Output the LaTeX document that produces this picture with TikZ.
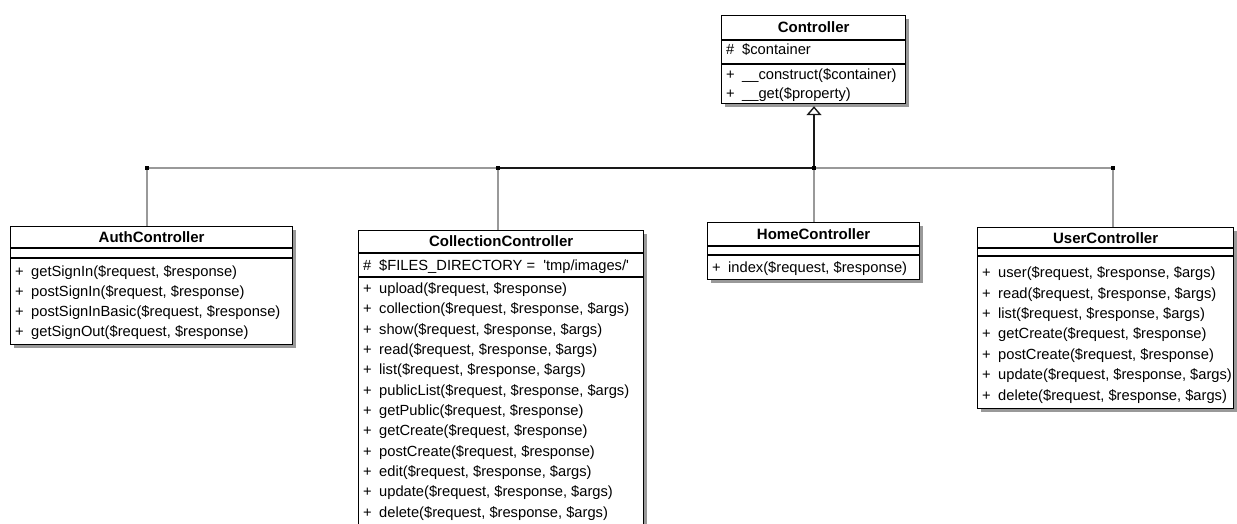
\documentclass[tikz,border=0pt]{standalone}
\usepackage{fontspec}
\setmainfont{Liberation Sans}[Ligatures=TeXOff]
\usetikzlibrary{shadows,arrows.meta}
\tikzset{
  x=1pt, y=-1pt,
  classbox/.style={draw=black, line width=1.2pt, fill=white, inner sep=0pt, anchor=north west,
    drop shadow={shadow xshift=3pt, shadow yshift=-3pt, fill=black!40, opacity=1}},
  titletext/.style={font=\fontsize{15}{18}\selectfont\bfseries, inner sep=0pt, text=black},
  rowtext/.style={font=\fontsize{14.7}{18}\selectfont, inner sep=0pt, anchor=base west, text=black},
  divider/.style={draw=black, line width=1.2pt},
  bus/.style={draw=black!40, line width=1.5pt},
  busdark/.style={draw=black!90, line width=2pt},
  junction/.style={fill=black, inner sep=0pt, minimum size=3.5pt, rectangle},
}
\newcommand{\rs}[1]{\makebox[16pt][l]{#1}}
\newcommand{\umlrows}[5]{%
  \foreach \t [count=\i] in {#5} {
    \node[rowtext] (#1-\i) at ({#2+5}, {#3+5.4+#4*(\i-1)}) {\t};
  }}
\begin{document}
\begin{tikzpicture}
\path[use as bounding box, clip] (0,0) rectangle (1237,524);

% ---------- connectors ----------
\coordinate (ja) at (147,168);
\coordinate (jc) at (498,168);
\coordinate (jh) at (814,168);
\coordinate (ju) at (1113,168);

% ---------- Controller ----------
\node[classbox, minimum width=184pt, minimum height=88pt] (ctrl) at (721,15) {};
\draw[divider] (ctrl.west |- 0,40) -- (ctrl.east |- 0,40);
\draw[divider] (ctrl.west |- 0,64) -- (ctrl.east |- 0,64);
\node[titletext] (ctrl-t) at (ctrl.north |- 0,27.5) {Controller};
\umlrows{ctrla}{721}{49}{20}{{\rs{\#}\$container}}
\umlrows{ctrlm}{721}{74}{19.5}{{\rs{+}\_\_construct(\$container)},{\rs{+}\_\_get(\$property)}}

% ---------- AuthController ----------
\node[classbox, minimum width=282pt, minimum height=118pt] (auth) at (10,226) {};
\draw[divider] (auth.west |- 0,248) -- (auth.east |- 0,248);
\draw[divider] (auth.west |- 0,258) -- (auth.east |- 0,258);
\node[titletext] (auth-t) at (auth.north |- 0,237) {AuthController};
\umlrows{authm}{10}{270.7}{20.1}{{\rs{+}getSignIn(\$request, \$response)},{\rs{+}postSignIn(\$request, \$response)},{\rs{+}postSignInBasic(\$request, \$response)},{\rs{+}getSignOut(\$request, \$response)}}

% ---------- CollectionController ----------
\node[classbox, minimum width=285pt, minimum height=320pt] (coll) at (358,230) {};
\draw[divider] (coll.west |- 0,253) -- (coll.east |- 0,253);
\draw[divider] (coll.west |- 0,277) -- (coll.east |- 0,277);
\node[titletext] (coll-t) at (coll.north |- 0,241.5) {CollectionController};
\umlrows{colla}{358}{265}{20}{{\rs{\#}\$FILES\_DIRECTORY =\ \ 'tmp/images/'}}
\umlrows{collm}{358}{288}{20.35}{{\rs{+}upload(\$request, \$response)},{\rs{+}collection(\$request, \$response, \$args)},{\rs{+}show(\$request, \$response, \$args)},{\rs{+}read(\$request, \$response, \$args)},{\rs{+}list(\$request, \$response, \$args)},{\rs{+}publicList(\$request, \$response, \$args)},{\rs{+}getPublic(\$request, \$response)},{\rs{+}getCreate(\$request, \$response)},{\rs{+}postCreate(\$request, \$response)},{\rs{+}edit(\$request, \$response, \$args)},{\rs{+}update(\$request, \$response, \$args)},{\rs{+}delete(\$request, \$response, \$args)}}

% ---------- HomeController ----------
\node[classbox, minimum width=212pt, minimum height=57pt] (home) at (707,222) {};
\draw[divider] (home.west |- 0,246) -- (home.east |- 0,246);
\draw[divider] (home.west |- 0,255) -- (home.east |- 0,255);
\node[titletext] (home-t) at (home.north |- 0,234) {HomeController};
\umlrows{homem}{707}{267}{20}{{\rs{+}index(\$request, \$response)}}

% ---------- UserController ----------
\node[classbox, minimum width=256pt, minimum height=181pt] (user) at (977,227) {};
\draw[divider] (user.west |- 0,248) -- (user.east |- 0,248);
\draw[divider] (user.west |- 0,256) -- (user.east |- 0,256);
\node[titletext] (user-t) at (user.north |- 0,238) {UserController};
\umlrows{userm}{977}{272.3}{20.4}{{\rs{+}user(\$request, \$response, \$args)},{\rs{+}read(\$request, \$response, \$args)},{\rs{+}list(\$request, \$response, \$args)},{\rs{+}getCreate(\$request, \$response)},{\rs{+}postCreate(\$request, \$response)},{\rs{+}update(\$request, \$response, \$args)},{\rs{+}delete(\$request, \$response, \$args)}}

% ---------- generalization tree ----------
\draw[bus] (ja) -- (ju);
\draw[bus] (ja) -- (ja |- auth.north);
\draw[bus] (jc) -- (jc |- coll.north);
\draw[bus] (jh) -- (jh |- home.north);
\draw[bus] (ju) -- (ju |- user.north);
\draw[busdark] (jc) -- (jh);
\draw[busdark, -{Triangle[open, width=15pt, length=9pt, line width=1.4pt]}, shorten >=2pt] (jh) -- (jh |- ctrl.south);
\node[junction] (dja) at (ja) {};
\node[junction] (djc) at (jc) {};
\node[junction] (djh) at (jh) {};
\node[junction] (dju) at (ju) {};
\end{tikzpicture}
\end{document}
